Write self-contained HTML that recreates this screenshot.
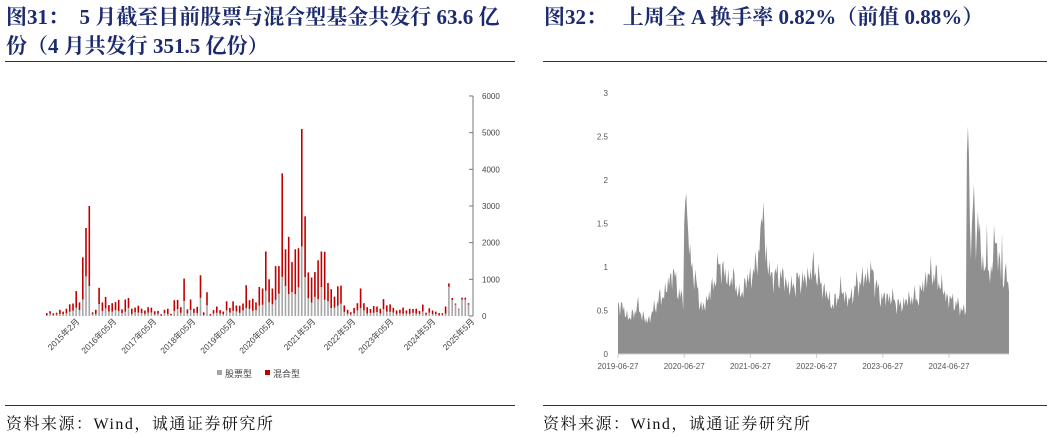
<!DOCTYPE html>
<html><head><meta charset="utf-8">
<style>
html,body{margin:0;padding:0;background:#fff;}
body{width:1055px;height:437px;position:relative;overflow:hidden;font-family:"Liberation Serif","Noto Serif CJK SC",serif;}
.t{position:absolute;color:#1c2a6e;font-weight:bold;font-size:21px;line-height:29px;white-space:nowrap;}
.ln{position:absolute;height:1px;background:#333;}
.src{position:absolute;top:411px;font-size:16px;letter-spacing:1.5px;color:#111;white-space:nowrap;}
svg{position:absolute;left:0;top:0;}
</style></head><body>
<div class="t" style="left:6px;top:3px;">图31：&nbsp;&nbsp;5 月截至目前股票与混合型基金共发行 63.6 亿<br>份（4 月共发行 351.5 亿份）</div>
<div class="t" style="left:544px;top:3px;">图32：&nbsp;&nbsp;&nbsp;上周全 A 换手率 0.82%（前值 0.88%）</div>
<div class="ln" style="left:5px;width:510px;top:61px;"></div>
<div class="ln" style="left:543px;width:504px;top:61px;"></div>
<div class="ln" style="left:5px;width:510px;top:405px;"></div>
<div class="ln" style="left:543px;width:504px;top:405px;"></div>
<div class="src" style="left:6px;">资料来源：Wind，诚通证券研究所</div>
<div class="src" style="left:543px;">资料来源：Wind，诚通证券研究所</div>
<svg id="s" width="1055" height="437" xmlns="http://www.w3.org/2000/svg" font-family="Liberation Sans, Noto Sans CJK SC, sans-serif"></svg>
<script>
var s=document.getElementById('s'),h='';
var y0=316,k=36.67/1000;
h+='<line x1="473" y1="96" x2="473" y2="316" stroke="#777" stroke-width="1"/>';
for(var i=0;i<=6;i++){var y=y0-i*1000*k;h+='<line x1="469" y1="'+y+'" x2="473" y2="'+y+'" stroke="#777"/><text x="482" y="'+(y+3)+'" font-size="8" fill="#444">'+(i*1000)+'</text>';}
var T=[0.8,1.3,0.7,0.9,1.7,1.2,2,3.2,3.4,6.8,3.7,16,24,30,1,1.7,7.7,3.7,5.2,3,3.5,3.8,4.4,1.8,4.5,4.9,2,2.3,2.8,2,1.5,2.4,2.3,1.3,1.4,0.5,1.7,2,0.6,4.3,4.4,2.4,10.2,1.8,4.5,2,2.5,11.1,1,6.5,0.5,1.6,2.6,1.6,1.2,4,2.2,4,2.9,2.8,3.4,8.4,4.3,4.7,3.7,7.9,7.5,17.6,10,7.5,13.6,13.6,38.9,18.2,21.6,14.7,18.2,18.5,51,27.2,11.9,10.5,12,15.2,17.6,17.5,9,7.3,5.3,8.1,8.3,2.9,1.7,1,2.2,3.5,7.5,3.5,2.4,1.9,2.7,2.6,2,4.6,2.9,3.2,2.2,1.5,1.7,2.3,1.5,2,1.9,2,1.4,3.1,0.9,2.1,1.5,1.2,0.8,0.8,2.6,8.9,4.9,3.4,2,5,5,3.5];
var n=T.length,x0=46,step=425/n;
for(var i=0;i<n;i++){var t=T[i]*100,f=0.25+0.2*Math.abs(Math.sin(i*1.7));if(i>=n-7)f=0.9;var g=t*f;var x=x0+i*step;
var hg=g*k,ht=t*k;
h+='<rect x="'+x.toFixed(1)+'" y="'+(y0-hg).toFixed(1)+'" width="1.6" height="'+hg.toFixed(1)+'" fill="#a6a6a6"/>';
h+='<rect x="'+x.toFixed(1)+'" y="'+(y0-ht).toFixed(1)+'" width="1.6" height="'+(ht-hg).toFixed(1)+'" fill="#c00000"/>';}
var lb=['2015年2月','2016年05月','2017年05月','2018年05月','2019年05月','2020年05月','2021年5月','2022年5月','2023年05月','2024年5月','2025年5月'];
var lx=[80,117,157,196,236,275,316,356,394,436,475];
for(var i=0;i<lb.length;i++){h+='<text transform="translate('+lx[i]+',322) rotate(-45)" text-anchor="end" font-size="8.5" fill="#444">'+lb[i]+'</text>';}
h+='<rect x="217" y="370" width="5" height="5" fill="#a6a6a6"/><text x="225" y="377" font-size="9" fill="#444">股票型</text>';
h+='<rect x="265" y="370" width="5" height="5" fill="#c00000"/><text x="273" y="377" font-size="9" fill="#444">混合型</text>';
var X0=618,X1=1009,Y0=354,K=87;
for(var i=0;i<=6;i++){var v=i*0.5;h+='<text x="608" y="'+(Y0-v*K+3)+'" font-size="8" fill="#555" text-anchor="end">'+v+'</text>';}
var A=[[0,0.6],[0.03,0.4],[0.05,0.55],[0.07,0.38],[0.08,0.4],[0.1,0.6],[0.12,0.7],[0.14,0.95],[0.16,0.65],[0.17,0.6],[0.175,1.5],[0.18,1.2],[0.2,0.8],[0.215,0.5],[0.24,0.75],[0.26,1.05],[0.28,0.85],[0.3,0.85],[0.31,0.65],[0.33,0.85],[0.35,0.95],[0.365,1.35],[0.38,1.1],[0.39,0.9],[0.42,0.9],[0.44,0.75],[0.46,0.85],[0.48,0.85],[0.5,1.0],[0.52,0.8],[0.55,0.55],[0.57,0.75],[0.59,0.6],[0.61,0.8],[0.65,0.95],[0.67,0.65],[0.7,0.65],[0.72,0.55],[0.75,0.65],[0.77,0.65],[0.78,0.8],[0.8,0.95],[0.82,0.85],[0.84,0.65],[0.86,0.6],[0.87,0.55],[0.885,0.5],[0.89,0.5],[0.893,1.3],[0.91,1.3],[0.92,1.5],[0.935,1.0],[0.95,0.85],[0.96,1.2],[0.97,1.3],[0.98,0.85],[0.99,0.85],[1,0.8]];
function base(p){for(var j=0;j<A.length-1;j++){if(p>=A[j][0]&&p<=A[j+1][0]){var u=(p-A[j][0])/((A[j+1][0]-A[j][0])||1);return A[j][1]+(A[j+1][1]-A[j][1])*u;}}return 0.8;}
var sp={66:1.5,67:1.75,68:1.85,69:1.6,70:1.4,144:1.5,145:1.75,146:1.5,348:2.3,349:2.62,350:2.3,351:1.5,354:1.7,355:1.95,356:1.6,368:1.5,383:1.4,387:1.05};
var d='M'+X0+','+Y0;var N=390;
for(var i=0;i<=N;i++){var p=i/N;var v=base(p)*(1+0.12*Math.sin(i*2.3)+0.08*Math.sin(i*5.1)+0.05*Math.sin(i*11.7));
if(sp[i])v=sp[i];
d+=' L'+(X0+p*(X1-X0)).toFixed(1)+','+(Y0-v*K).toFixed(1);}
d+=' L'+X1+','+Y0+'Z';
h+='<path d="'+d+'" fill="#8f8f8f"/>';
h+='<line x1="'+X0+'" y1="'+Y0+'" x2="'+X1+'" y2="'+Y0+'" stroke="#ccc"/>';
var dl=['2019-06-27','2020-06-27','2021-06-27','2022-06-27','2023-06-27','2024-06-27'];
for(var i=0;i<6;i++){var x=X0+i*66.2;h+='<line x1="'+x+'" y1="'+Y0+'" x2="'+x+'" y2="'+(Y0+4)+'" stroke="#ccc"/><text x="'+x+'" y="369" font-size="8" fill="#555" text-anchor="middle">'+dl[i]+'</text>';}
s.innerHTML=h;
</script>
</body></html>
